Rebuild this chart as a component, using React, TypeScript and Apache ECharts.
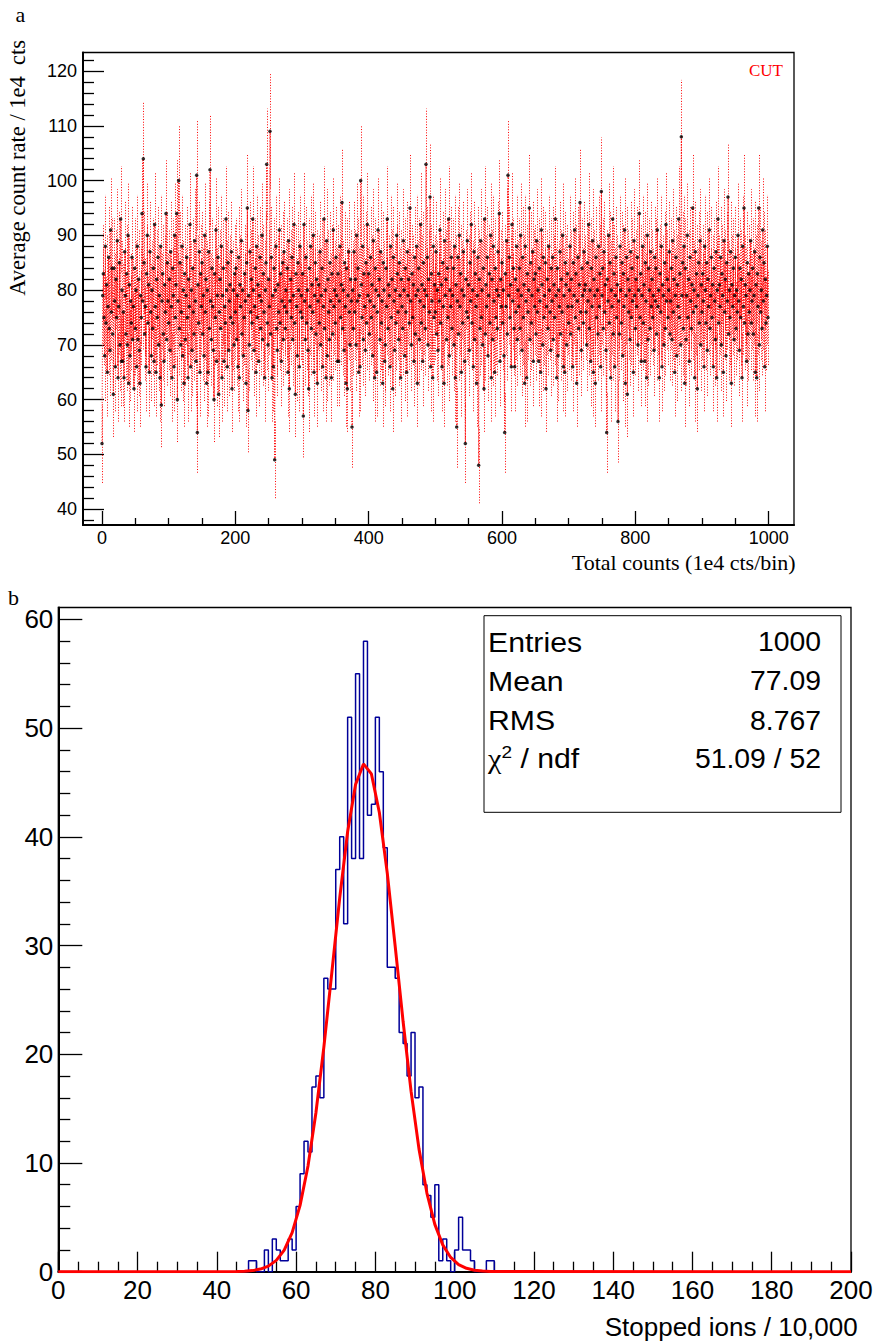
import React, { useEffect, useRef } from 'react';
import * as echarts from 'echarts';

// ---------- Panel a: average count rate per bin (1000 bins) ----------
const countRate: number[] = [
  52, 79, 83, 75, 68, 88, 74, 81, 65, 77, 86, 73, 69, 91, 76, 84, 72, 61, 84, 78, 66, 82, 75, 89, 64,
  77, 85, 70, 93, 67, 80, 67, 76, 64, 87, 79, 72, 83, 70, 90, 63, 81, 68, 78, 74, 86, 71, 77, 62, 84,
  73, 80, 66, 88, 71, 82, 69, 63, 79, 75, 94, 78, 104, 85, 72, 77, 66, 83, 90, 74, 81, 65, 87, 76, 68,
  80, 73, 84, 67, 92, 77, 65, 82, 75, 86, 70, 79, 64, 88, 59, 78, 83, 72, 67, 81, 76, 94, 71, 85, 78,
  74, 82, 69, 87, 77, 64, 84, 79, 66, 90, 75, 81, 94, 60, 78, 100, 73, 85, 70, 76, 88, 68, 80, 63, 83,
  71, 79, 86, 75, 64, 82, 77, 92, 66, 80, 69, 84, 76, 72, 89, 78, 67, 101, 54, 81, 74, 87, 65, 83, 77,
  85, 72, 79, 68, 90, 76, 82, 63, 80, 65, 87, 73, 102, 78, 71, 84, 77, 69, 60, 83, 75, 91, 67, 79, 86,
  61, 76, 82, 73, 88, 64, 79, 84, 67, 77, 74, 93, 80, 66, 85, 69, 78, 81, 75, 87, 62, 74, 80, 70, 83,
  76, 84, 71, 79, 66, 86, 64, 81, 77, 89, 72, 80, 68, 75, 83, 78, 63, 85, 95, 58, 79, 70, 87, 76, 82,
  74, 93, 80, 69, 77, 84, 65, 88, 75, 81, 67, 79, 86, 73, 78, 90, 71, 83, 76, 64, 80, 85, 103, 74, 70,
  82, 77, 109, 72, 86, 64, 79, 66, 84, 49, 80, 88, 73, 69, 81, 76, 91, 74, 83, 67, 78, 85, 71, 87, 77,
  73, 80, 76, 84, 65, 89, 62, 78, 82, 75, 86, 71, 79, 92, 74, 61, 83, 77, 68, 85, 80, 66, 88, 76, 79,
  75, 83, 57, 92, 78, 71, 86, 74, 80, 69, 62, 84, 77, 88, 73, 81, 76, 90, 65, 79, 85, 72, 82, 63, 78,
  81, 74, 87, 70, 79, 84, 66, 77, 93, 73, 80, 64, 89, 68, 82, 76, 71, 85, 78, 64, 83, 72, 91, 77, 80,
  74, 86, 79, 67, 83, 67, 78, 88, 75, 81, 96, 73, 80, 69, 85, 77, 63, 84, 62, 79, 87, 76, 70, 82, 78,
  55, 80, 73, 87, 76, 82, 70, 90, 78, 84, 65, 79, 66, 100, 81, 75, 88, 71, 83, 77, 69, 85, 74, 92, 79,
  83, 72, 78, 86, 75, 81, 68, 89, 77, 64, 84, 80, 65, 76, 91, 79, 82, 71, 87, 74, 78, 63, 85, 80, 67,
  70, 84, 77, 93, 73, 81, 79, 66, 88, 75, 82, 62, 86, 78, 69, 80, 74, 90, 83, 76, 71, 85, 79, 64, 82,
  77, 73, 89, 80, 68, 84, 76, 65, 87, 79, 82, 74, 95, 78, 70, 83, 75, 81, 67, 86, 72, 79, 88, 63, 80,
  84, 71, 78, 92, 74, 81, 67, 85, 77, 80, 73, 103, 79, 86, 70, 82, 76, 97, 66, 83, 78, 64, 88, 75, 81,
  76, 87, 72, 80, 69, 83, 78, 91, 74, 81, 66, 85, 77, 63, 89, 79, 82, 71, 84, 75, 93, 68, 80, 77, 86,
  73, 79, 84, 70, 88, 64, 81, 55, 78, 86, 72, 90, 77, 83, 65, 80, 74, 87, 79, 67, 52, 82, 76, 89, 75,
  81, 69, 85, 78, 92, 74, 80, 66, 87, 71, 83, 77, 63, 79, 86, 48, 82, 73, 89, 75, 80, 70, 84, 62, 93,
  72, 81, 77, 86, 68, 79, 83, 74, 90, 64, 82, 71, 88, 78, 65, 84, 75, 80, 73, 87, 79, 94, 67, 82, 77,
  85, 74, 80, 68, 54, 83, 77, 89, 72, 101, 79, 86, 75, 81, 66, 92, 78, 84, 73, 66, 82, 76, 88, 71, 80,
  77, 84, 73, 90, 79, 69, 86, 75, 81, 63, 88, 78, 64, 83, 76, 80, 95, 71, 85, 74, 79, 87, 67, 82, 77,
  83, 72, 89, 76, 80, 67, 84, 78, 65, 91, 81, 70, 86, 75, 79, 85, 62, 77, 82, 73, 88, 80, 76, 69, 84,
  78, 86, 71, 81, 75, 93, 79, 64, 84, 68, 80, 77, 87, 72, 82, 76, 90, 66, 79, 65, 85, 81, 70, 83, 77,
  74, 80, 88, 72, 82, 77, 66, 85, 79, 91, 75, 83, 63, 78, 86, 73, 81, 96, 76, 69, 84, 79, 74, 87, 80,
  81, 76, 70, 85, 78, 92, 73, 80, 67, 84, 77, 89, 65, 82, 79, 63, 86, 75, 80, 72, 88, 77, 83, 66, 98,
  79, 84, 73, 87, 76, 81, 69, 54, 82, 78, 90, 74, 85, 64, 80, 77, 93, 72, 83, 66, 79, 86, 75, 81, 56,
  78, 72, 88, 80, 74, 85, 68, 83, 77, 91, 63, 79, 86, 61, 82, 76, 80, 71, 87, 75, 84, 78, 65, 89, 79,
  73, 82, 77, 86, 70, 80, 94, 75, 83, 67, 79, 88, 74, 81, 67, 85, 78, 64, 90, 71, 84, 80, 73, 87, 77,
  82, 75, 79, 69, 86, 78, 84, 72, 91, 77, 80, 64, 83, 76, 88, 66, 81, 79, 70, 85, 73, 92, 78, 82, 75,
  80, 87, 72, 78, 84, 71, 89, 76, 82, 65, 79, 86, 68, 81, 77, 93, 75, 83, 70, 108, 79, 85, 73, 88, 63,
  84, 71, 79, 90, 75, 82, 67, 86, 78, 73, 81, 95, 76, 80, 64, 87, 77, 83, 62, 79, 85, 74, 89, 70, 81,
  76, 83, 78, 66, 88, 80, 74, 85, 69, 82, 77, 91, 73, 79, 86, 75, 81, 66, 84, 78, 71, 87, 64, 80, 93,
  74, 81, 77, 86, 70, 83, 79, 65, 89, 76, 82, 68, 85, 78, 97, 72, 80, 75, 87, 63, 81, 77, 84, 71, 79,
  86, 73, 80, 76, 90, 78, 69, 84, 75, 82, 64, 88, 77, 95, 74, 81, 79, 67, 85, 72, 83, 76, 80, 89, 74,
  78, 84, 72, 79, 87, 65, 81, 64, 83, 77, 95, 70, 86, 76, 80, 73, 91, 78, 85, 66, 82, 74, 79, 88, 75,
];

const topXTicks = [0, 200, 400, 600, 800, 1000];
const topYTicks = [40, 50, 60, 70, 80, 90, 100, 110, 120];

// ---------- Panel b: histogram of stopped ions (bins of width 1, 0..200) ----------
const histFirstBin = 48;
const histCounts = [
  1, 1, 0, 0, 2, 0, 3, 2, 1, 1, 3, 2,        // 48-59
  6, 9, 12, 11, 17, 18, 16, 27, 26, 26,      // 60-69
  37, 40, 32, 51, 38, 55, 38, 58, 42, 43,    // 70-79
  51, 46, 39, 28, 28, 27, 22, 21, 18, 22,    // 80-89
  16, 17, 8, 7, 5, 8, 1, 3, 1, 0,            // 90-99
  2, 5, 2, 2, 1, 0, 0, 0, 1, 1,              // 100-109
];
// Gaussian fit curve, sampled where it is drawn (x, y)
const fitX = [45, 47, 49, 51, 53, 55, 57, 59, 61, 63, 65, 67, 69, 71, 73, 75, 77, 79, 81, 83, 85, 87, 89, 91, 93, 95, 97, 99, 101, 103, 105, 107, 109];
const fitY = [0.02, 0.04, 0.10, 0.24, 0.51, 1.04, 1.99, 3.59, 6.10, 9.73, 14.62, 20.66, 27.48, 34.38, 40.47, 44.82, 46.71, 45.79, 42.24, 36.66, 29.93, 22.99, 16.61, 11.30, 7.23, 4.35, 2.47, 1.31, 0.66, 0.31, 0.14, 0.06, 0.02];
const botXTicks = [0, 20, 40, 60, 80, 100, 120, 140, 160, 180, 200];
const botYTicks = [0, 10, 20, 30, 40, 50, 60];
const statsRows = [
  ['Entries', '1000'],
  ['Mean', '77.09'],
  ['RMS', '8.767'],
  ['{g|χ}{s|2}{t| / ndf}', '51.09 / 52'],
];

function minorTicks(from: number, to: number, step: number, majorStep: number): number[] {
  const out: number[] = [];
  for (let v = from; v <= to + 1e-9; v += step) {
    const r = Math.round(v * 1000) / 1000;
    if (Math.abs(r / majorStep - Math.round(r / majorStep)) > 1e-6) out.push(r);
  }
  return out;
}

export default function App() {
  const ref = useRef<HTMLDivElement>(null);
  useEffect(() => {
    if (!ref.current) return;
    const chart = echarts.init(ref.current, null, { renderer: 'svg' });
    const sans = 'Liberation Sans, Arial, Helvetica, sans-serif';
    const serif = 'Liberation Serif, Times New Roman, serif';

    const topPts = countRate.map((v, i) => [i, v]);
    const poissonErr = countRate.map((v, i) => [i, v - Math.sqrt(v), v + Math.sqrt(v)]);

    const histLine: number[][] = [];
    for (let b = 0; b < 200; b++) {
      const k = b - histFirstBin;
      histLine.push([b, k >= 0 && k < histCounts.length ? histCounts[k] : 0]);
    }
    histLine.push([200, histLine[199][1]]);
    const fitLine = [[0, 0], ...fitX.map((x, i) => [x, fitY[i]]), [200, 0]];

    const topX = { min: -28.5, max: 1038 };
    const topY = { min: 37.1, max: 123.4 };
    const botX = { min: 0, max: 200 };
    const botY = { min: 0, max: 61.1 };

    const axis = (gridIndex: number, ext: any, position: string, ticks: number[], len: number, labels: boolean, fontSize: number, margin: number, showLine: boolean) => ({
      gridIndex,
      type: 'value',
      min: ext.min,
      max: ext.max,
      position,
      axisLine: { show: showLine, onZero: false, lineStyle: { color: '#000', width: 2 } },
      axisTick: { show: true, inside: true, length: len, customValues: ticks, lineStyle: { color: '#000', width: 1.3 } },
      axisLabel: labels
        ? { show: true, customValues: ticks, fontSize, fontFamily: sans, color: '#000', margin, formatter: (v: number) => String(v) }
        : { show: false },
      splitLine: { show: false },
      minorTick: { show: false },
    });

    const graphics: any[] = [
      { type: 'text', x: 15.5, y: 14.3, style: { text: 'a', fontSize: 22, fontFamily: serif, fill: '#000', align: 'left', verticalAlign: 'middle' } },
      { type: 'text', x: 8, y: 597.6, style: { text: 'b', fontSize: 22, fontFamily: serif, fill: '#000', align: 'left', verticalAlign: 'middle' } },
      { type: 'text', x: 17.5, y: 40, rotation: Math.PI / 2, style: { text: 'Average count rate / 1e4  cts', fontSize: 22.5, fontFamily: serif, fill: '#000', align: 'right', verticalAlign: 'middle' } },
      { type: 'text', x: 795.7, y: 562.5, style: { text: 'Total counts (1e4 cts/bin)', fontSize: 22, fontFamily: serif, fill: '#000', align: 'right', verticalAlign: 'middle' } },
      { type: 'text', x: 783, y: 70, style: { text: 'CUT', fontSize: 17, fontFamily: serif, fill: '#ff0000', align: 'right', verticalAlign: 'middle' } },
      { type: 'text', x: 857.7, y: 1327, style: { text: 'Stopped ions / 10,000', fontSize: 26, fontFamily: sans, fill: '#000', align: 'right', verticalAlign: 'middle' } },
      { type: 'rect', shape: { x: 484, y: 615.7, width: 357, height: 196.6 }, style: { fill: '#fff', stroke: '#000', lineWidth: 1 }, z: 100 },
    ];
    const rowBase = [651.7, 690.7, 730, 768.3];
    statsRows.forEach((row, i) => {
      const yc = rowBase[i] - 9.5;
      graphics.push({
        type: 'text', x: 488, y: yc, z: 101, scaleX: 1.12,
        style: {
          text: row[0], fontSize: 27, fontFamily: sans, fill: '#000', align: 'left', verticalAlign: 'middle',
          rich: {
            g: { fontSize: 27, fontFamily: serif, fill: '#000' },
            s: { fontSize: 17, fontFamily: sans, fill: '#000', verticalAlign: 'top', padding: [0, 0, 12, 0] },
            t: { fontSize: 27, fontFamily: sans, fill: '#000' },
          },
        },
      });
      graphics.push({
        type: 'text', x: 821, y: yc, z: 101, scaleX: 1.05,
        style: { text: row[1], fontSize: 27, fontFamily: sans, fill: '#000', align: 'right', verticalAlign: 'middle' },
      });
    });

    chart.setOption({
      animation: false,
      backgroundColor: '#fff',
      grid: [
        { left: 83, top: 52.5, width: 711, height: 472.5, show: true, borderColor: '#000', borderWidth: 1.3, backgroundColor: 'transparent', containLabel: false },
        { left: 58.3, top: 607.5, width: 792.7, height: 664.2, show: true, borderColor: '#000', borderWidth: 1.3, backgroundColor: 'transparent', containLabel: false },
      ],
      xAxis: [
        axis(0, topX, 'bottom', topXTicks, 14, true, 18, 4, true),
        axis(0, topX, 'bottom', minorTicks(0, 1000, 50, 200), 7, false, 18, 0, false),
        axis(1, botX, 'bottom', botXTicks, 20, true, 26, 5, true),
        axis(1, botX, 'bottom', minorTicks(0, 200, 5, 20), 10, false, 26, 0, false),
      ],
      yAxis: [
        axis(0, topY, 'left', topYTicks, 21, true, 18, 6, true),
        axis(0, topY, 'left', minorTicks(38, 122, 2, 10), 11, false, 18, 0, false),
        axis(1, botY, 'left', botYTicks, 24, true, 26, 5, true),
        axis(1, botY, 'left', minorTicks(2, 58, 2, 10), 12, false, 26, 0, false),
      ],
      series: [
        {
          type: 'custom',
          xAxisIndex: 0,
          yAxisIndex: 0,
          data: poissonErr,
          encode: { x: 0, y: [1, 2] },
          clip: true,
          silent: true,
          z: 2,
          renderItem: (_p: any, api: any) => {
            const x = api.value(0);
            const a = api.coord([x, api.value(1)]);
            const b = api.coord([x, api.value(2)]);
            const px = Math.round(a[0]) + 0.5;
            return {
              type: 'line',
              shape: { x1: px, y1: a[1], x2: px, y2: b[1] },
              style: { stroke: '#ff0000', lineWidth: 1, lineDash: [1, 1.7] },
            };
          },
        },
        {
          type: 'line',
          xAxisIndex: 0,
          yAxisIndex: 0,
          data: topPts,
          showSymbol: false,
          silent: true,
          z: 3,
          lineStyle: { color: '#ff0000', width: 1, type: [1, 1.7] },
        },
        {
          type: 'scatter',
          xAxisIndex: 0,
          yAxisIndex: 0,
          data: topPts,
          symbol: 'circle',
          symbolSize: 3.5,
          silent: true,
          z: 4,
          itemStyle: { color: '#000' },
        },
        {
          type: 'line',
          xAxisIndex: 2,
          yAxisIndex: 2,
          data: histLine,
          step: 'end',
          showSymbol: false,
          silent: true,
          z: 3,
          lineStyle: { color: '#000099', width: 1.5 },
        },
        {
          type: 'line',
          xAxisIndex: 2,
          yAxisIndex: 2,
          data: fitLine,
          showSymbol: false,
          silent: true,
          z: 4,
          lineStyle: { color: '#ff0000', width: 3 },
        },
      ],
      graphic: { elements: graphics },
    });
    return () => chart.dispose();
  }, []);
  return <div ref={ref} style={{ position: 'absolute', left: 0, top: 0, width: 877, height: 1343 }} />;
}
